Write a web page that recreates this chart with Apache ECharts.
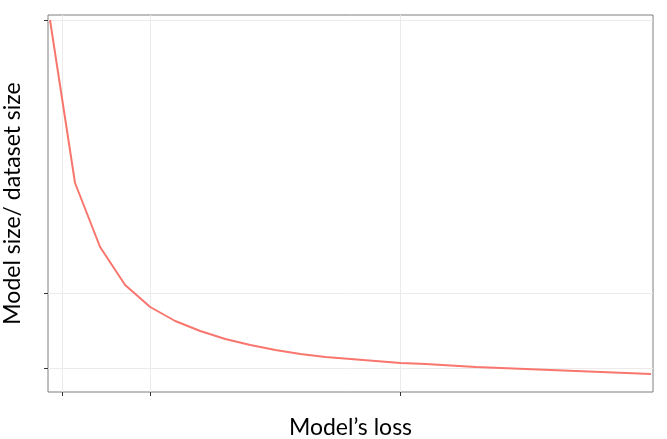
<!DOCTYPE html>
<html>
<head>
<meta charset="utf-8">
<script src="https://cdn.jsdelivr.net/npm/echarts@6/dist/echarts.min.js"></script>
<style>html,body{margin:0;padding:0;background:#fff;}#chart{width:667px;height:439px;}</style>
</head>
<body>
<div id="chart"></div>
<script>
// data (arbitrary units)
const lossValues = [1, 2, 3, 4, 5, 6, 7, 8, 9, 10, 11, 12, 13, 14, 15, 16, 17, 18, 19, 20, 21, 22, 23, 24, 25];
const sizeValues = [372, 209, 145, 107, 85, 71, 61, 53, 47, 42, 38, 35, 33, 31, 29, 28, 26.5, 25, 24, 23, 22, 21, 20, 19, 18];
const xTicks = [1.48, 5, 15];
const yTicks = [24, 99, 372];

const chart = echarts.init(document.getElementById('chart'));
const gridCol = '#ebebeb';
chart.setOption({
  animation: false,
  grid: { left: 48, top: 15, right: 14, bottom: 47, containLabel: false, outerBoundsMode: 'none',
    show: true, borderColor: '#7f7f7f', borderWidth: 1 },
  xAxis: {
    type: 'value', min: 0.92, max: 25.08,
    name: 'Model\u2019s loss', nameLocation: 'middle', nameGap: 24,
    nameTextStyle: { fontSize: 23, color: '#000', fontFamily: 'Lato' },
    axisLine: { show: false },
    axisTick: { show: true, length: 4, lineStyle: { color: '#333' }, customValues: xTicks },
    axisLabel: { show: false, customValues: xTicks },
    splitLine: { show: true, lineStyle: { color: gridCol } }
  },
  yAxis: {
    type: 'value', min: 0, max: 377,
    name: 'Model size/ dataset size', nameLocation: 'middle', nameGap: 24,
    nameTextStyle: { fontSize: 23, color: '#000', fontFamily: 'Lato' },
    axisLine: { show: false },
    axisTick: { show: true, length: 4, lineStyle: { color: '#333' }, customValues: yTicks },
    axisLabel: { show: false, customValues: yTicks },
    splitLine: { show: true, lineStyle: { color: gridCol } }
  },
  series: [{
    type: 'line',
    data: lossValues.map((x, i) => [x, sizeValues[i]]),
    showSymbol: false,
    lineStyle: { color: '#f8766d', width: 2 }
  }]
});
</script>
</body>
</html>
